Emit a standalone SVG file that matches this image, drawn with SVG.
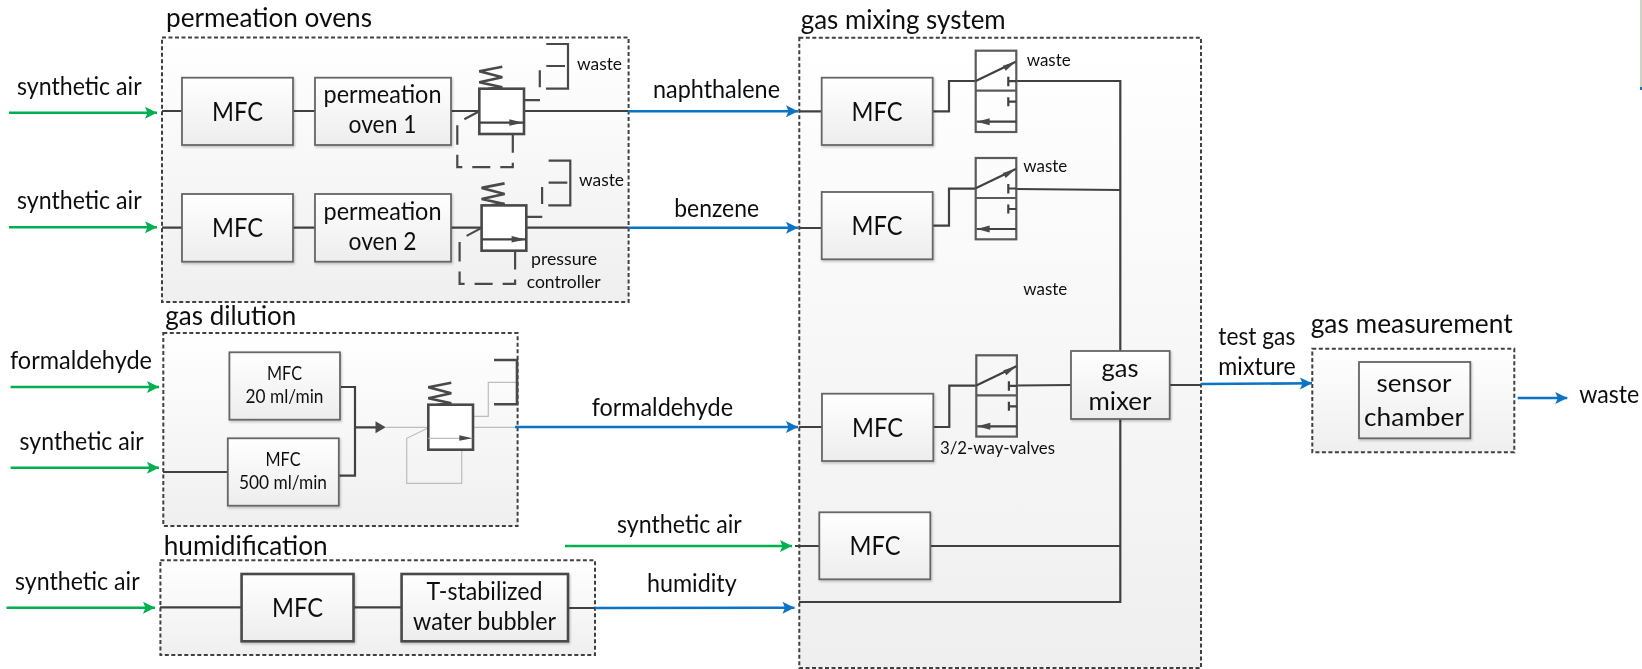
<svg xmlns="http://www.w3.org/2000/svg" width="1642" height="669" viewBox="0 0 1642 669">
<style>
text{font-family:"Lato","Carlito","Liberation Sans",sans-serif;fill:#111}
.t{font-size:27px}.l{font-size:25px}.m{font-size:27.5px}.s{font-size:18px}.n{font-size:25.5px}.f{font-size:20px}
.mid{text-anchor:middle}
.grp{fill:url(#gg);stroke:#404040;stroke-width:2;stroke-dasharray:4 2.5}
.box{fill:url(#bg);stroke:#666;stroke-width:1.8;filter:url(#sh)}
.bx2{fill:url(#bg);stroke:#4a4a4a;stroke-width:2.6;filter:url(#sh)}
.w{fill:none;stroke:#404040;stroke-width:2.2}
.w3{fill:none;stroke:#484848;stroke-width:2.6}
.lt{fill:none;stroke:#bdbdbd;stroke-width:1.2}
.dash{fill:none;stroke:#484848;stroke-width:2.2}
.vb{fill:#fff;stroke:#484848;stroke-width:2.6}
.vc{fill:none;stroke:#5a5a5a;stroke-width:2.2}
.g{fill:none;stroke:#00b050;stroke-width:2.6;marker-end:url(#ag)}
.b{fill:none;stroke:#0a73c4;stroke-width:2.6;marker-end:url(#ab)}
.hd{fill:#484848}
</style>
<defs>
<linearGradient id="gg" x1="0" y1="0" x2="0" y2="1"><stop offset="0" stop-color="#fff"/><stop offset="1" stop-color="#efefef"/></linearGradient>
<linearGradient id="bg" x1="0" y1="0" x2="0" y2="1"><stop offset="0" stop-color="#fff"/><stop offset="1" stop-color="#ededed"/></linearGradient>
<filter id="sh" x="-5%" y="-5%" width="112%" height="115%"><feDropShadow dx="1" dy="1.5" stdDeviation="1" flood-color="#000" flood-opacity=".22"/></filter>
<filter id="soft" filterUnits="userSpaceOnUse" x="0" y="0" width="1642" height="669"><feGaussianBlur stdDeviation="0.45"/></filter>
<marker id="ag" markerUnits="userSpaceOnUse" markerWidth="13" markerHeight="14" refX="12" refY="6.5" orient="auto"><path d="M0 0.5L12 6.5L0 12.5L2.5 6.5Z" fill="#00b050"/></marker>
<marker id="ab" markerUnits="userSpaceOnUse" markerWidth="13" markerHeight="14" refX="12" refY="6.5" orient="auto"><path d="M0 0.5L12 6.5L0 12.5L2.5 6.5Z" fill="#0a73c4"/></marker>
<g id="relief">
<path class="w3" d="M23 -22L0 -17.5L23 -11.5L0 -6.500L23 -1.500L9 0"/>
<rect class="vb" x="0" y="0" width="44.700" height="45.300"/>
<path class="w" d="M0 34H44"/><path class="hd" d="M30 30.500L44 34L30 37Z"/>
</g>
<g id="relief-pilot">
<path class="dash" d="M0 22.500L-15 30.500"/>
<path class="dash" d="M-22 36.500V56M-22 66V78.500H-17M-7 78.500H11M21 78.500H33.500V74M33.500 64V45.300"/>
<path class="dash" d="M44.700 11.500H60.700M60.500 -18.500V-1.500M66.700 0H88.700V-44.700H67M67 -22.700H85.700"/>
</g>
<g id="way">
<rect class="vc" x="0" y="0" width="40.600" height="81.300"/>
<path class="vc" d="M0 40H40.600"/>
<path class="w" d="M0 30.300L40 11"/><path class="hd" d="M40 11L27 15L30 20Z"/>
<path class="w" d="M32.600 26V35.500M32.600 30.500H40.600M32.600 46.500V55.500M32.600 51H40.600M1 71H40.600"/>
<path class="hd" d="M1 71L14 67.500V74.500Z"/>
</g>
</defs>
<rect width="1642" height="669" fill="#fff"/>
<g id="diagram" filter="url(#soft)">
<rect x="1640" y="0" width="2" height="87" fill="#cfd3c2"/><rect x="1640" y="87" width="2" height="3" fill="#0a73c4"/>

<g id="group-frames">
<rect id="frame-permeation" class="grp" x="162" y="37.500" width="466.600" height="264.500"/>
<rect id="frame-dilution" class="grp" x="163.300" y="333" width="354.300" height="193"/>
<rect id="frame-humidification" class="grp" x="160.400" y="560.300" width="434.600" height="94.700"/>
<rect id="frame-mixing" class="grp" x="799.300" y="37.700" width="401.700" height="630.300"/>
<rect id="frame-measurement" class="grp" x="1312.300" y="348.700" width="202" height="103.600"/>
</g>

<g id="connectors">
<path class="w" d="M162 111H182M293 111H315M451 111H479M524 111H628"/>
<path class="w" d="M162 227.700H182M293 227.700H315M451 227.700H481M526 227.700H628"/>
<path class="w" d="M163 472H228M341 387H355V475.700H339M355 427.300H378"/><path class="hd" d="M375.500 421.300L385.700 427.300L375.500 433.300Z"/>
<path class="lt" d="M385.700 427.300H428M428 428L406.700 438.300V483.300H461.700V449.700M428.300 438.300H472M473 427.300H515M473 416.300H488.300V382.300H516.700"/>
<path class="w3" d="M494 360H517V404.300H494"/>
<path class="w" d="M160 607.300H241.600M353.500 607.300H401.600M568 608H595"/>
<path class="w" d="M799 111.300H821.700M799 228H821.700M799 427H822M795 546H819.300M932.700 111.300H949V81H975.700M932.700 225.700H949V188.700H975.700M933.300 427H949.300V385.700H976.300"/>
<path class="w" d="M1016.300 81H1120.300V351M1016.300 189L1120.300 190M1017 385.500L1071 385M1120.300 419V602H799M930.300 546H1120.300M1170 385H1201"/>
<path class="g" d="M9 112.700H157"/><path class="g" d="M9 227.300H157"/><path class="g" d="M10.600 387H159"/><path class="g" d="M10.600 467.700H159"/><path class="g" d="M6.500 607.700H155"/><path class="g" d="M565 546H792"/>
<path class="b" d="M628 111.300H798"/><path class="b" d="M628 227.700H798"/><path class="b" d="M515 427H798"/><path class="b" d="M595 608L794.500 607.700"/><path class="b" d="M1201 384L1312 383.300"/><path class="b" d="M1517.700 398H1567.300"/>
</g>

<g id="labels">
<text class="t" x="166" y="27" textLength="206" lengthAdjust="spacingAndGlyphs">permeation ovens</text>
<text class="t" x="165.300" y="325" textLength="131" lengthAdjust="spacingAndGlyphs">gas dilution</text>
<text class="t" x="163.700" y="555" textLength="164" lengthAdjust="spacingAndGlyphs">humidification</text>
<text class="t" x="800.700" y="29" textLength="205" lengthAdjust="spacingAndGlyphs">gas mixing system</text>
<text class="t" x="1310.700" y="333" textLength="202" lengthAdjust="spacingAndGlyphs">gas measurement</text>
<text class="l" x="17" y="95" textLength="124.600" lengthAdjust="spacingAndGlyphs">synthetic air</text>
<text class="l" x="17" y="209" textLength="124.600" lengthAdjust="spacingAndGlyphs">synthetic air</text>
<text class="l" x="10" y="369.300" textLength="142" lengthAdjust="spacingAndGlyphs">formaldehyde</text>
<text class="l" x="19.600" y="450" textLength="124" lengthAdjust="spacingAndGlyphs">synthetic air</text>
<text class="l" x="15" y="590" textLength="124.600" lengthAdjust="spacingAndGlyphs">synthetic air</text>
<text class="l" x="653" y="97.700" textLength="127" lengthAdjust="spacingAndGlyphs">naphthalene</text>
<text class="l" x="674.300" y="216.700" textLength="84.700" lengthAdjust="spacingAndGlyphs">benzene</text>
<text class="l" x="591.700" y="416" textLength="141.300" lengthAdjust="spacingAndGlyphs">formaldehyde</text>
<text class="l" x="617" y="532.700" textLength="124.700" lengthAdjust="spacingAndGlyphs">synthetic air</text>
<text class="l" x="647" y="592.300" textLength="89.700" lengthAdjust="spacingAndGlyphs">humidity</text>
<text class="l" x="1218.300" y="345" textLength="77" lengthAdjust="spacingAndGlyphs">test gas</text>
<text class="l" x="1218.300" y="375" textLength="77.500" lengthAdjust="spacingAndGlyphs">mixture</text>
<text class="l" x="1579.300" y="403" textLength="60" lengthAdjust="spacingAndGlyphs">waste</text>
<text class="s" x="577" y="70" textLength="45" lengthAdjust="spacingAndGlyphs">waste</text>
<text class="s" x="579" y="186" textLength="45" lengthAdjust="spacingAndGlyphs">waste</text>
<text class="s mid" x="564" y="265" textLength="66" lengthAdjust="spacingAndGlyphs">pressure</text>
<text class="s mid" x="563.700" y="288" textLength="74" lengthAdjust="spacingAndGlyphs">controller</text>
<text class="s" x="1026.700" y="65.700" textLength="44" lengthAdjust="spacingAndGlyphs">waste</text>
<text class="s" x="1023.300" y="172.300" textLength="44" lengthAdjust="spacingAndGlyphs">waste</text>
<text class="s" x="1023.300" y="295" textLength="44" lengthAdjust="spacingAndGlyphs">waste</text>
<text class="s" x="940" y="454.300" textLength="115" lengthAdjust="spacingAndGlyphs">3/2-way-valves</text>
</g>

<g id="mfc-1"><rect class="box" x="182" y="77.700" width="111" height="67.300"/><text class="m mid" x="237.500" y="120.500" textLength="51" lengthAdjust="spacingAndGlyphs">MFC</text></g>
<g id="oven-1"><rect class="box" x="315" y="77.700" width="136" height="67.300"/><text class="n mid" x="382.500" y="103" textLength="118" lengthAdjust="spacingAndGlyphs">permeation</text><text class="n mid" x="382.500" y="133" textLength="68" lengthAdjust="spacingAndGlyphs">oven 1</text></g>
<g id="pressure-valve-1" transform="translate(479.300 88.700)"><use href="#relief-pilot"/><use href="#relief"/></g>
<g id="mfc-2"><rect class="box" x="182" y="194" width="111" height="67.700"/><text class="m mid" x="237.500" y="237" textLength="51" lengthAdjust="spacingAndGlyphs">MFC</text></g>
<g id="oven-2"><rect class="box" x="315" y="194" width="136" height="67.700"/><text class="n mid" x="382.500" y="219.500" textLength="118" lengthAdjust="spacingAndGlyphs">permeation</text><text class="n mid" x="382.500" y="250" textLength="68" lengthAdjust="spacingAndGlyphs">oven 2</text></g>
<g id="pressure-valve-2" transform="translate(481.600 205.400)"><use href="#relief-pilot"/><use href="#relief"/></g>

<g id="mfc-20"><rect class="box" x="229.400" y="352.300" width="110.600" height="67.400"/><text class="f mid" x="284.500" y="380" textLength="35" lengthAdjust="spacingAndGlyphs">MFC</text><text class="f mid" x="284.500" y="403" textLength="78" lengthAdjust="spacingAndGlyphs">20 ml/min</text></g>
<g id="mfc-500"><rect class="box" x="227.800" y="438.300" width="111" height="67.400"/><text class="f mid" x="283" y="465.700" textLength="35" lengthAdjust="spacingAndGlyphs">MFC</text><text class="f mid" x="283" y="489" textLength="88" lengthAdjust="spacingAndGlyphs">500 ml/min</text></g>
<g id="pressure-valve-3" transform="translate(428.300 404.700)"><rect class="vb" x="0" y="0" width="44.700" height="45"/><path class="w3" d="M23 -22L0 -17.500L23 -11.500L0 -6.500L23 -1.500L9 0"/><path class="lt" d="M0 33.600H44"/><path class="hd" d="M31 30.500L44 33.600L31 36Z"/></g>

<g id="mfc-humid"><rect class="bx2" x="241.600" y="574" width="111.900" height="67.300"/><text class="m mid" x="297.500" y="617" textLength="51" lengthAdjust="spacingAndGlyphs">MFC</text></g>
<g id="bubbler"><rect class="bx2" x="401.600" y="574" width="166.400" height="67.300"/><text class="n mid" x="484.500" y="600" textLength="116" lengthAdjust="spacingAndGlyphs">T-stabilized</text><text class="n mid" x="484.500" y="630" textLength="143" lengthAdjust="spacingAndGlyphs">water bubbler</text></g>

<g id="mfc-naphthalene"><rect class="box" x="821.700" y="77.700" width="111" height="67.300"/><text class="m mid" x="877" y="120.500" textLength="51" lengthAdjust="spacingAndGlyphs">MFC</text></g>
<g id="valve-1" transform="translate(975.700 50.700)"><use href="#way"/></g>
<g id="mfc-benzene"><rect class="box" x="821.700" y="192" width="111" height="67.300"/><text class="m mid" x="877" y="234.700" textLength="51" lengthAdjust="spacingAndGlyphs">MFC</text></g>
<g id="valve-2" transform="translate(975.700 158)"><use href="#way"/></g>
<g id="mfc-formaldehyde"><rect class="box" x="822" y="393.700" width="111.300" height="67.300"/><text class="m mid" x="877.500" y="436.500" textLength="51" lengthAdjust="spacingAndGlyphs">MFC</text></g>
<g id="valve-3" transform="translate(976.300 355.300)"><use href="#way"/></g>
<g id="mfc-air"><rect class="box" x="819.300" y="512.300" width="111" height="67"/><text class="m mid" x="875" y="555" textLength="51" lengthAdjust="spacingAndGlyphs">MFC</text></g>
<g id="gas-mixer"><rect class="box" x="1071" y="351" width="98.700" height="68"/><text class="n mid" x="1120" y="376.700" textLength="37" lengthAdjust="spacingAndGlyphs">gas</text><text class="n mid" x="1120" y="410" textLength="63" lengthAdjust="spacingAndGlyphs">mixer</text></g>
<g id="sensor-chamber"><rect class="box" x="1359" y="362" width="111.300" height="76.300"/><text class="n mid" x="1414" y="391.700" textLength="75" lengthAdjust="spacingAndGlyphs">sensor</text><text class="n mid" x="1414" y="425.700" textLength="100" lengthAdjust="spacingAndGlyphs">chamber</text></g>
</g>
</svg>
